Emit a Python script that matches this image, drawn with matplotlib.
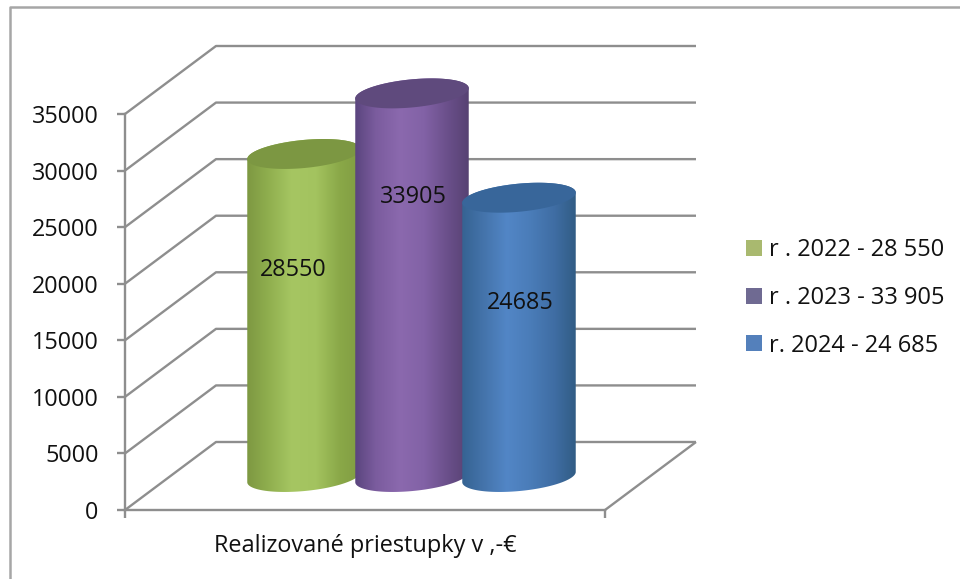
import numpy as np
import matplotlib
matplotlib.use("Agg")
import matplotlib.pyplot as plt
from matplotlib.patches import Polygon, Rectangle
from matplotlib.lines import Line2D
from matplotlib.colors import LinearSegmentedColormap

# ---- data ----
series_values = [28550, 33905, 24685]
data_labels = ["28550", "33905", "24685"]
legend_labels = ["r . 2022 - 28 550", "r . 2023 - 33 905", "r. 2024 - 24 685"]
x_label = "Realizované priestupky v ,-€"
y_ticks = [0, 5000, 10000, 15000, 20000, 25000, 30000, 35000]

# ---- styles ----
bar_centers = [304, 412, 519]
bar_half_width = 57
body_colors = [["#7b9540", "#8fae4e", "#a6c662", "#a3c35f", "#8aa848", "#7f9b41"],
               ["#56427a", "#7b5c9e", "#8b69ae", "#8262a6", "#6a4f8a", "#54406f"],
               ["#33618f", "#4473aa", "#5286c6", "#4a7cb8", "#3f6da3", "#2f5a80"]]
top_colors = ["#7c9742", "#5f4a7d", "#38669a"]
legend_colors = ["#a9b96f", "#6f6a92", "#5480bb"]
GRID = "#8e8e8e"
FONT = "Open Sans"
FS = 16.8

W, H = 960, 579
fig = plt.figure(figsize=(W / 100, H / 100), dpi=100, facecolor="white")
X0, X1, Y0, Y1 = 125, 605, 510, 114
ax = fig.add_axes([X0 / W, 1 - Y0 / H, (X1 - X0) / W, (Y0 - Y1) / H])
ax.set_facecolor("none")
VPP = 35000 / (Y0 - Y1)   # value units per pixel
DX, DY = 91, 68           # oblique depth, pixels


def yv(px):
    return px * VPP


# outer frame: left and top edges reach the picture's borders
fig.add_artist(Line2D([10 / W, 10 / W, 1], [0, 1 - 7 / H, 1 - 7 / H], transform=fig.transFigure,
                      color="#a6a6a6", lw=1.8))

# walls and floor
line_kw = dict(color=GRID, lw=1.7, clip_on=False, solid_capstyle="butt", zorder=1)
xr = X1 + DX
for v in y_ticks:
    ax.plot([X0, X0 + DX, xr], [v, v + yv(DY), v + yv(DY)], **line_kw)
ax.plot([X1, xr], [0, yv(DY)], **line_kw)

# cylinders
A, B, TILT = bar_half_width, 14, np.radians(5.5)
BASE = 33  # pixels above the axis


def ell(cx, v, t):
    x = cx + A * np.cos(t) * np.cos(TILT) - B * np.sin(t) * np.sin(TILT)
    y = v + yv(A * np.cos(t) * np.sin(TILT) + B * np.sin(t) * np.cos(TILT))
    return x, y


for i, (cx, val) in enumerate(zip(bar_centers, series_values)):
    base = yv(BASE)
    top = base + val
    xb, yb = ell(cx, base, np.linspace(np.pi, 2 * np.pi, 80))
    xt, yt = ell(cx, top, np.linspace(0, np.pi, 80))
    body = Polygon(np.r_[np.c_[xb, yb], np.c_[xt, yt]], closed=True, fc="none", ec="none",
                   transform=ax.transData, clip_on=False)
    ax.add_patch(body)
    cmap = LinearSegmentedColormap.from_list("c", body_colors[i])
    im = ax.imshow(np.linspace(0, 1, 256)[None, :], cmap=cmap, aspect="auto",
                   extent=[cx - A - 3, cx + A + 3, -1000, 44000], zorder=2 + i, interpolation="bilinear")
    im.set_clip_box(fig.bbox)
    im.set_clip_path(body)
    xe, ye = ell(cx, top, np.linspace(0, 2 * np.pi, 160))
    ax.add_patch(Polygon(np.c_[xe, ye], closed=True, fc=top_colors[i], ec="none",
                         clip_on=False, zorder=2.5 + i))

ax.set_xlim(X0, X1)
ax.set_ylim(0, 35000)

# data labels
label_pos = [(293, 270), (413, 197), (520, 303)]
for (px, py), s in zip(label_pos, data_labels):
    ax.text(px / W, 1 - py / H, s, transform=fig.transFigure, ha="center", va="center",
            family=FONT, fontsize=FS, color="#111111", zorder=10)

# axes
for s in ["top", "right"]:
    ax.spines[s].set_visible(False)
for s in ["left", "bottom"]:
    ax.spines[s].set_color(GRID)
    ax.spines[s].set_linewidth(1.7)
ax.set_yticks(y_ticks)
ax.set_xticks([X0, X1])
ax.set_xticklabels(["", ""])
ax.tick_params(axis="both", color=GRID, width=1.7, length=6)
ax.tick_params(axis="y", pad=13, labelsize=FS, labelcolor="#111111")
for t in ax.get_yticklabels():
    t.set_family(FONT)
    t.set_y(t.get_position()[1])
fig.text(365 / W, 1 - 546 / H, x_label, ha="center", va="center", family=FONT,
         fontsize=16.9, color="#111111")

# legend
handles = [Rectangle((0, 0), 1, 1, fc=c, ec="none") for c in legend_colors]
fig.legend(handles, legend_labels, loc="center left", bbox_to_anchor=(746 / W, 1 - 298 / H),
           frameon=False, prop={"family": FONT, "size": 17}, labelcolor="#111111",
           handlelength=0.68, handleheight=0.68, handletextpad=0.3, labelspacing=1.0,
           borderpad=0, borderaxespad=0)

fig.savefig("out.png", dpi=100, facecolor="white")
